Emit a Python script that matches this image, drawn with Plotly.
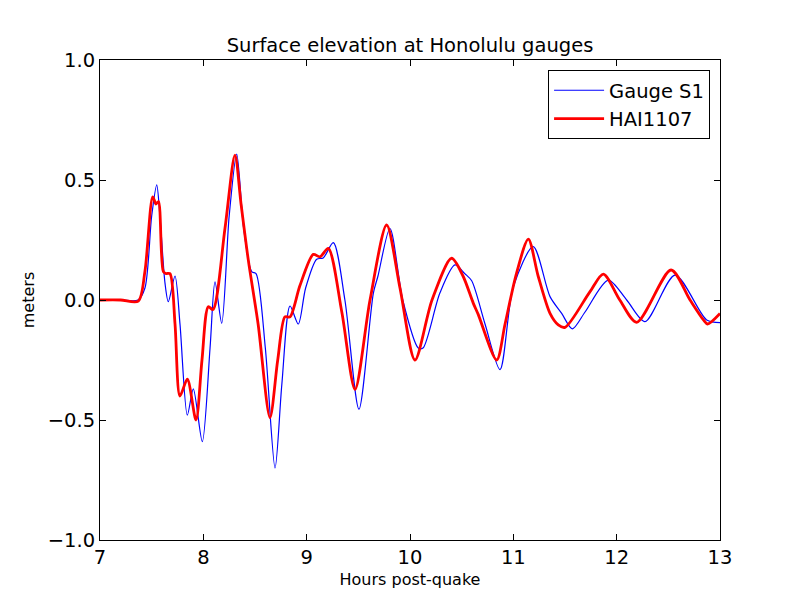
import plotly.graph_objects as go

# Gauge S1 (blue) - hours post-quake and surface elevation (m)
s1_t = [7.0, 7.2, 7.368, 7.435, 7.50, 7.549, 7.58, 7.629, 7.661, 7.726, 7.774, 7.845, 7.903,
        7.99, 8.065, 8.113, 8.178, 8.25, 8.323, 8.39, 8.468, 8.51, 8.60, 8.694, 8.76, 8.839,
        8.919, 8.99, 9.097, 9.16, 9.258, 9.37, 9.506, 9.645, 9.69, 9.806, 9.93, 10.08, 10.126,
        10.29, 10.435, 10.53, 10.597, 10.726, 10.871, 11.0, 11.193, 11.355, 11.468, 11.571,
        11.694, 11.919, 12.097, 12.274, 12.565, 12.871, 13.0]
s1_v = [0.0, 0.0, 0.0, 0.05, 0.35, 0.48, 0.35, 0.07, -0.007, 0.10, -0.10, -0.48, -0.37,
        -0.59, -0.20, 0.076, -0.097, 0.35, 0.608, 0.30, 0.118, 0.11, -0.20, -0.70, -0.35, -0.025,
        -0.10, 0.05, 0.17, 0.175, 0.239, 0.0, -0.455, 0.028, 0.10, 0.298, 0.0, -0.20, -0.20,
        0.03, 0.146, 0.11, 0.08, -0.10, -0.29, 0.055, 0.222, 0.014, -0.056, -0.12,
        -0.05, 0.083, 0.0, -0.09, 0.104, -0.083, -0.094]

# HAI1107 (red)
hai_t = [7.0, 7.2, 7.37, 7.435, 7.51, 7.542, 7.566, 7.613, 7.64, 7.677, 7.726, 7.774, 7.845,
         7.929, 7.987, 8.048, 8.094, 8.21, 8.306, 8.365, 8.435, 8.53, 8.645, 8.72, 8.79, 8.839,
         8.935, 9.064, 9.129, 9.209, 9.34, 9.468, 9.613, 9.774, 9.903, 10.048, 10.213, 10.403,
         10.513, 10.613, 10.66, 10.839, 10.92, 11.03, 11.145, 11.24, 11.355, 11.435, 11.50,
         11.742, 11.871, 12.03, 12.194, 12.526, 12.71, 12.84, 12.88, 13.0]
hai_v = [0.0, 0.0, -0.005, 0.12, 0.43, 0.40, 0.41, 0.118, 0.11, 0.11, -0.10, -0.40, -0.33,
         -0.50, -0.25, -0.028, -0.04, 0.30, 0.604, 0.40, 0.167, -0.10, -0.49, -0.25, -0.07, -0.07,
         0.06, 0.19, 0.18, 0.215, -0.05, -0.372, 0.0, 0.3125, 0.05, -0.25, 0.0, 0.174,
         0.10, -0.014, -0.06, -0.25, -0.10, 0.11, 0.254, 0.10, -0.056, -0.104, -0.114,
         0.035, 0.108, 0.0, -0.093, 0.125, 0.0, -0.083, -0.10, -0.056]

x_ticks = [7, 8, 9, 10, 11, 12, 13]
y_ticks = [-1.0, -0.5, 0.0, 0.5, 1.0]

font = "DejaVu Sans"
fig = go.Figure()
fig.add_trace(go.Scatter(x=s1_t, y=s1_v, mode="lines", name="Gauge S1",
                         line=dict(color="#0000ff", width=1.2, shape="spline", smoothing=0.8)))
fig.add_trace(go.Scatter(x=hai_t, y=hai_v, mode="lines", name="HAI1107",
                         line=dict(color="#ff0000", width=2.8, shape="spline", smoothing=0.8)))

axis_common = dict(showline=True, linecolor="black", linewidth=1, mirror="ticks",
                   ticks="inside", ticklen=6, tickcolor="black", showgrid=False,
                   zeroline=False, tickfont=dict(family=font, size=19.5, color="black"))
fig.update_layout(
    width=800, height=600,
    margin=dict(l=92, r=88, t=52, b=68),
    paper_bgcolor="white", plot_bgcolor="white",
    title=dict(text="Surface elevation at Honolulu gauges", x=0.5, xref="paper",
               y=1 - 37 / 600, yanchor="middle",
               font=dict(family=font, size=19.5, color="black")),
    xaxis=dict(range=[7, 13], tickvals=x_ticks, ticktext=[str(v) for v in x_ticks],
               title=dict(text="Hours post-quake", font=dict(family=font, size=16, color="black"),
                          standoff=5),
               **axis_common),
    yaxis=dict(range=[-1, 1], tickvals=y_ticks, tickformat=".1f",
               title=dict(text="meters", font=dict(family=font, size=16, color="black"),
                          standoff=9),
               **axis_common),
    legend=dict(x=0.984, y=0.979, xanchor="right", yanchor="top",
                bgcolor="white", bordercolor="black", borderwidth=1,
                itemwidth=50, tracegroupgap=0,
                font=dict(family=font, size=19.5, color="black")),
    showlegend=True,
)
fig.write_html("out.html")
